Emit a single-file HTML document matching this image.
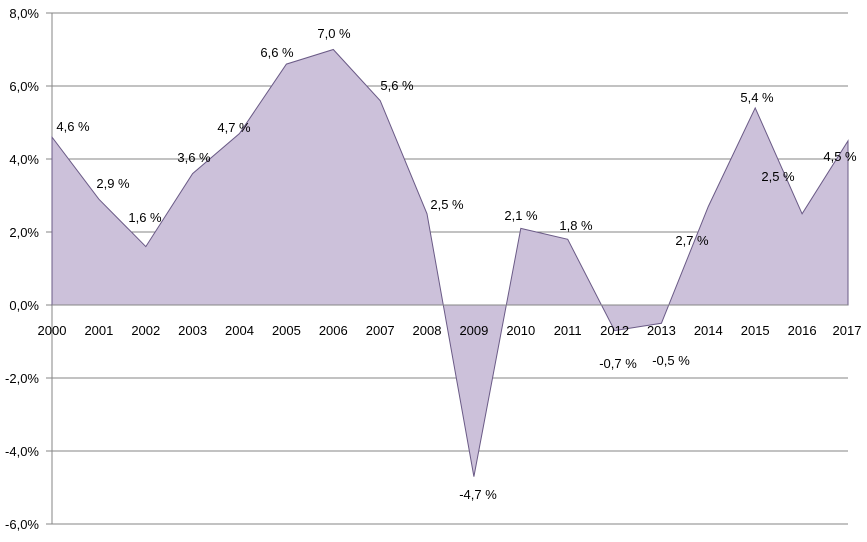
<!DOCTYPE html>
<html><head><meta charset="utf-8"><style>
html,body{margin:0;padding:0;background:#fff;}
svg text{font-family:"Liberation Sans",Arial,sans-serif;font-size:13px;fill:#000;}
</style></head><body>
<svg width="867" height="537" viewBox="0 0 867 537">
<g stroke="#868686" stroke-width="1">
<line x1="52" y1="13" x2="848" y2="13"/>
<line x1="52" y1="86" x2="848" y2="86"/>
<line x1="52" y1="159" x2="848" y2="159"/>
<line x1="52" y1="232" x2="848" y2="232"/>
<line x1="52" y1="378" x2="848" y2="378"/>
<line x1="52" y1="451" x2="848" y2="451"/>
<line x1="52" y1="524" x2="848" y2="524"/>
<line x1="52" y1="13" x2="52" y2="524"/>
<line x1="46" y1="13" x2="52" y2="13"/><line x1="46" y1="86" x2="52" y2="86"/><line x1="46" y1="159" x2="52" y2="159"/><line x1="46" y1="232" x2="52" y2="232"/><line x1="46" y1="305" x2="52" y2="305"/><line x1="46" y1="378" x2="52" y2="378"/><line x1="46" y1="451" x2="52" y2="451"/><line x1="46" y1="524" x2="52" y2="524"/>
</g>
<polygon fill="#ccc1da" stroke="#6a5a86" stroke-width="1" points="52,305 52,137.1 98.9,199.2 145.8,246.6 192.6,173.6 239.5,133.5 286.4,64.1 333.3,49.5 380.2,100.6 427,213.8 473.9,476.6 520.8,228.4 567.7,239.3 614.6,330.6 661.4,323.3 708.3,206.5 755.2,107.9 802.1,213.8 848,140.8 848,305"/>
<g stroke="#868686" stroke-width="1">
<line x1="52" y1="305" x2="848" y2="305"/>
</g>
<g text-anchor="end">
<text x="39" y="18">8,0%</text><text x="39" y="91">6,0%</text><text x="39" y="164">4,0%</text><text x="39" y="237">2,0%</text><text x="39" y="310">0,0%</text><text x="39" y="383">-2,0%</text><text x="39" y="456">-4,0%</text><text x="39" y="529">-6,0%</text>
</g>
<g text-anchor="middle">
<text x="52" y="335">2000</text><text x="98.9" y="335">2001</text><text x="145.8" y="335">2002</text><text x="192.6" y="335">2003</text><text x="239.5" y="335">2004</text><text x="286.4" y="335">2005</text><text x="333.3" y="335">2006</text><text x="380.2" y="335">2007</text><text x="427" y="335">2008</text><text x="473.9" y="335">2009</text><text x="520.8" y="335">2010</text><text x="567.7" y="335">2011</text><text x="614.6" y="335">2012</text><text x="661.4" y="335">2013</text><text x="708.3" y="335">2014</text><text x="755.2" y="335">2015</text><text x="802.1" y="335">2016</text><text x="847" y="335">2017</text>
<text x="73" y="131">4,6 %</text><text x="113" y="188">2,9 %</text><text x="145" y="222">1,6 %</text><text x="194" y="162">3,6 %</text><text x="234" y="132">4,7 %</text><text x="277" y="57">6,6 %</text><text x="334" y="38">7,0 %</text><text x="397" y="90">5,6 %</text><text x="447" y="209">2,5 %</text><text x="478" y="499">-4,7 %</text><text x="521" y="220">2,1 %</text><text x="576" y="230">1,8 %</text><text x="618" y="368">-0,7 %</text><text x="671" y="365">-0,5 %</text><text x="692" y="245">2,7 %</text><text x="757" y="102">5,4 %</text><text x="778" y="181">2,5 %</text><text x="840" y="161">4,5 %</text>
</g>
</svg>
</body></html>
